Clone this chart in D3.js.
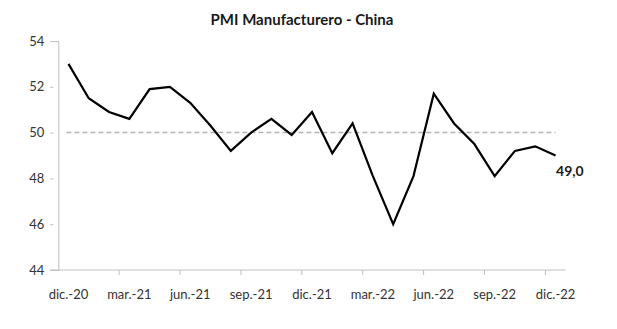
<!DOCTYPE html>
<html>
<head>
<meta charset="utf-8">
<script src="https://cdn.jsdelivr.net/npm/d3@7"></script>
<style>
  html, body { margin: 0; padding: 0; background: #fff; }
  svg { display: block; font-family: Lato, "Noto Sans", sans-serif; }
</style>
</head>
<body>
<svg id="chart" width="617" height="329"></svg>
<script>
// Monthly categories, Dec 2020 – Dec 2022
const months = [
  "dic.-20", "ene.-21", "feb.-21", "mar.-21", "abr.-21", "may.-21", "jun.-21",
  "jul.-21", "ago.-21", "sep.-21", "oct.-21", "nov.-21", "dic.-21",
  "ene.-22", "feb.-22", "mar.-22", "abr.-22", "may.-22", "jun.-22",
  "jul.-22", "ago.-22", "sep.-22", "oct.-22", "nov.-22", "dic.-22"
];
// Manufacturing PMI readings
const pmi = [
  53.0, 51.5, 50.9, 50.6, 51.9, 52.0, 51.3, 50.3, 49.2, 50.0, 50.6, 49.9, 50.9,
  49.1, 50.4, 48.1, 46.0, 48.1, 51.7, 50.4, 49.5, 48.1, 49.2, 49.4, 49.0
];
// Axis ticks
const yTicks = [44, 46, 48, 50, 52, 54];
const xLabels = ["dic.-20", "mar.-21", "jun.-21", "sep.-21", "dic.-21", "mar.-22", "jun.-22", "sep.-22", "dic.-22"];
const threshold = 50;
const title = "PMI Manufacturero - China";

const svg = d3.select("#chart");
const plotLeft = 58.3, plotRight = 565.7, plotTop = 41, plotBottom = 270;

const x = d3.scaleBand().domain(months).range([plotLeft, plotRight]).paddingInner(0).paddingOuter(0);
const y = d3.scaleLinear().domain([44, 54]).range([plotBottom, plotTop]);
const cx = m => x(m) + x.bandwidth() / 2;

const axisColor = "#bfbfbf";

// Title
svg.append("text")
  .attr("x", 302).attr("y", 24.5)
  .attr("text-anchor", "middle")
  .attr("font-size", 15).attr("font-weight", "bold")
  .attr("fill", "#1a1a1a")
  .text(title);

// Y axis
const yAxis = svg.append("g")
  .attr("transform", `translate(${plotLeft},0)`)
  .call(d3.axisLeft(y).tickValues(yTicks).tickSize(5).tickPadding(9).tickFormat(d3.format("d")));
yAxis.select(".domain").attr("stroke", axisColor);
yAxis.selectAll(".tick line").attr("stroke", axisColor).attr("x1", -8);
yAxis.selectAll(".tick text").attr("font-size", 13).attr("fill", "#333").attr("font-family", "Lato, 'Noto Sans', sans-serif");

// X axis: tick marks at category boundaries every three months, labels centered on categories
const xg = svg.append("g").attr("transform", `translate(0,${plotBottom})`);
xg.append("line")
  .attr("x1", plotLeft - 8).attr("x2", plotRight)
  .attr("stroke", axisColor);
const tickIdx = d3.range(0, months.length, 3);
xg.selectAll("line.tk").data(tickIdx.slice(1)).join("line")
  .attr("class", "tk")
  .attr("x1", i => x(months[i])).attr("x2", i => x(months[i]))
  .attr("y1", 0).attr("y2", 5)
  .attr("stroke", axisColor);
xg.selectAll("text").data(xLabels).join("text")
  .attr("x", d => cx(d))
  .attr("y", 29)
  .attr("text-anchor", "middle")
  .attr("font-size", 13)
  .attr("fill", "#333")
  .text(d => d);

// Threshold line at 50
svg.append("line")
  .attr("x1", cx(months[0]) - 2).attr("x2", cx(months[months.length - 1]))
  .attr("y1", y(threshold)).attr("y2", y(threshold))
  .attr("stroke", "#b3b3b3").attr("stroke-width", 1.5)
  .attr("stroke-dasharray", "5,3");

// PMI line
const line = d3.line().x((d, i) => cx(months[i])).y(d => y(d));
svg.append("path")
  .datum(pmi)
  .attr("d", line)
  .attr("fill", "none")
  .attr("stroke", "#000")
  .attr("stroke-width", 2.2)
  .attr("stroke-linejoin", "miter");

// Last value label
const lastVal = pmi[pmi.length - 1];
svg.append("text")
  .attr("x", cx(months[months.length - 1]) + 0.5)
  .attr("y", y(lastVal) + 20.5)
  .attr("font-size", 14).attr("font-weight", "bold")
  .attr("fill", "#1a1a1a")
  .text(d3.format(".1f")(lastVal).replace(".", ","));
</script>
</body>
</html>
